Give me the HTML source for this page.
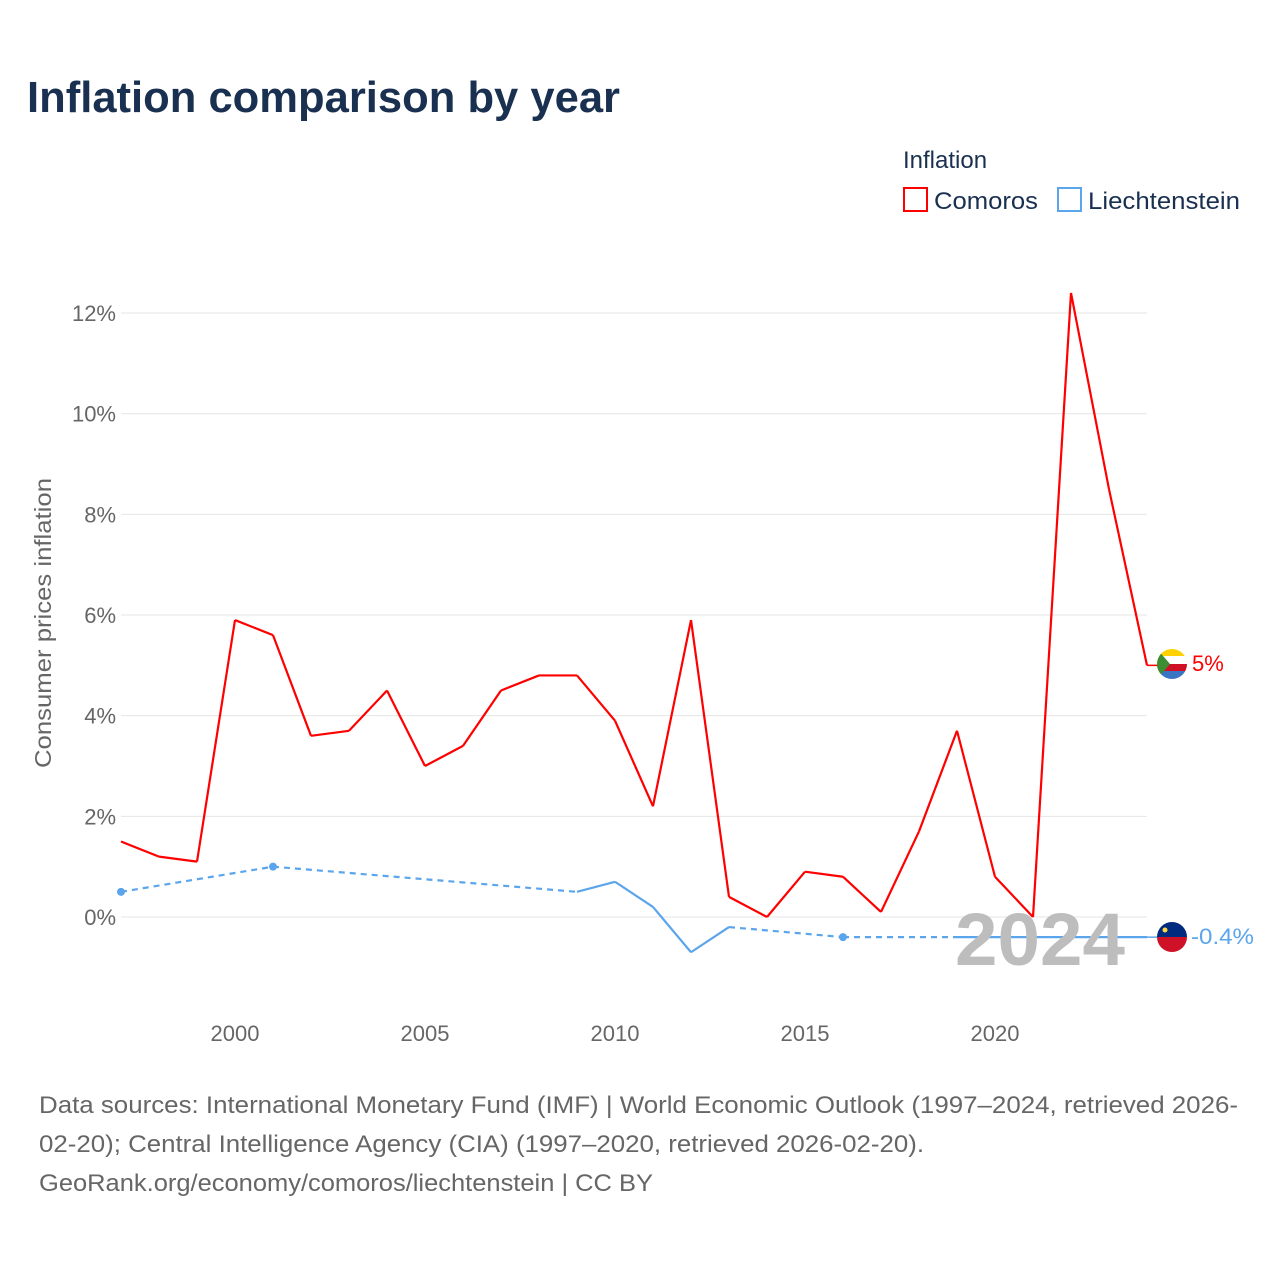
<!DOCTYPE html>
<html><head><meta charset="utf-8"><style>
body{margin:0;background:#fff;width:1280px;height:1280px;overflow:hidden;font-family:"Liberation Sans",sans-serif}
</style></head><body>
<svg width="1280" height="1280" id="chart">
<text x="27" y="112" font-size="44" font-weight="bold" fill="#1a3050" textLength="593" lengthAdjust="spacingAndGlyphs">Inflation comparison by year</text>
<text x="903" y="168" font-size="24" fill="#1a3050">Inflation</text>
<g><rect x="904" y="188" width="23" height="23" fill="none" stroke="#f00" stroke-width="2"/><text x="934" y="209" font-size="24" fill="#1a3050" textLength="104" lengthAdjust="spacingAndGlyphs">Comoros</text></g>
<g><rect x="1058" y="188" width="23" height="23" fill="none" stroke="#5aa5ec" stroke-width="2"/><text x="1088" y="209" font-size="24" fill="#1a3050" textLength="152" lengthAdjust="spacingAndGlyphs">Liechtenstein</text></g>
<g id="grid"></g><g id="series"></g>
<text x="955" y="965" font-size="74" font-weight="bold" fill="#bdbdbd" textLength="170" lengthAdjust="spacingAndGlyphs">2024</text>
<text transform="translate(51,623) rotate(-90)" font-size="23" fill="#666" text-anchor="middle" textLength="290" lengthAdjust="spacingAndGlyphs">Consumer prices inflation</text>
<g><clipPath id="c1"><circle cx="1172" cy="664" r="15"/></clipPath><g clip-path="url(#c1)"><rect x="1157" y="649" width="30" height="8" fill="#ffd100"/><rect x="1157" y="656" width="30" height="8" fill="#fff"/><rect x="1157" y="664" width="30" height="8" fill="#ce1126"/><rect x="1157" y="671" width="30" height="8" fill="#3a75c4"/><polygon points="1157,649 1170,664 1157,679" fill="#3d8e33"/></g></g>
<g><clipPath id="c2"><circle cx="1172" cy="937" r="15"/></clipPath><g clip-path="url(#c2)"><rect x="1157" y="922" width="30" height="15" fill="#002b7f"/><rect x="1157" y="937" width="30" height="15" fill="#ce1126"/><circle cx="1165" cy="930" r="2.5" fill="#ffd83d"/></g></g>
<text x="1192" y="671" font-size="22" fill="#f00">5%</text>
<text x="1191" y="944" font-size="22" fill="#5aa5ec" textLength="63" lengthAdjust="spacingAndGlyphs">-0.4%</text>
<text font-size="24" fill="#666"><tspan x="39" y="1113" textLength="1199" lengthAdjust="spacingAndGlyphs">Data sources: International Monetary Fund (IMF) | World Economic Outlook (1997–2024, retrieved 2026-</tspan><tspan x="39" y="1152" textLength="885" lengthAdjust="spacingAndGlyphs">02-20); Central Intelligence Agency (CIA) (1997–2020, retrieved 2026-02-20).</tspan><tspan x="39" y="1191" textLength="614" lengthAdjust="spacingAndGlyphs">GeoRank.org/economy/comoros/liechtenstein | CC BY</tspan></text>
</svg>
<script>
const years=[1997,1998,1999,2000,2001,2002,2003,2004,2005,2006,2007,2008,2009,2010,2011,2012,2013,2014,2015,2016,2017,2018,2019,2020,2021,2022,2023,2024];
const comoros=[1.5,1.2,1.1,5.9,5.6,3.6,3.7,4.5,3.0,3.4,4.5,4.8,4.8,3.9,2.2,5.9,0.4,0.0,0.9,0.8,0.1,1.7,3.7,0.8,0.0,12.4,8.5,5.0];
const liechtenstein=[0.5,null,null,null,1.0,null,null,null,null,null,null,null,0.5,0.7,0.2,-0.7,-0.2,null,null,-0.4,null,null,-0.4,-0.4,-0.4,-0.4,-0.4,-0.4];
const yTicks=[0,2,4,6,8,10,12];
const xTicks=[2000,2005,2010,2015,2020];
const X=y=>121+(y-1997)*38, Y=v=>917-v*50.33;
const NS='http://www.w3.org/2000/svg';
function mk(t,a,p){const e=document.createElementNS(NS,t);for(const k in a)e.setAttribute(k,a[k]);p.appendChild(e);return e;}
const g=document.getElementById('grid'), s=document.getElementById('series');
yTicks.forEach(v=>{
 const l=mk('line',{x1:121,x2:1147,y1:Y(v),y2:Y(v),stroke:'#e6e6e6'},g);
 
 
 const t=mk('text',{x:116,y:Y(v)+8,'font-size':22,fill:'#666','text-anchor':'end'},g);t.textContent=v+'%';
 
 
});
xTicks.forEach(v=>{
 const t=mk('text',{x:X(v),y:1041,'font-size':22,fill:'#666','text-anchor':'middle'},g);t.textContent=v;
 
 
});
function draw(vals,col,name){
 const pts=vals.map((v,i)=>v==null?null:[X(years[i]),Y(v)]);
 const known=pts.map((p,i)=>p?i:-1).filter(i=>i>=0);
 for(let k=0;k<known.length-1;k++){
  const a=known[k],b=known[k+1];
  const l=mk('line',{x1:pts[a][0],y1:pts[a][1],x2:pts[b][0],y2:pts[b][1],stroke:col,'stroke-width':2.2},s);
  if(b-a>1)l.setAttribute('stroke-dasharray','6,5');
  
  
 }
 known.forEach((i,k)=>{
  const prevGap=k==0||known[k]-known[k-1]>1, nextGap=k==known.length-1||known[k+1]-known[k]>1;
  if(prevGap&&nextGap&&k<known.length-1){const c=mk('circle',{cx:pts[i][0],cy:pts[i][1],r:4,fill:col},s);
   
   }
 });
 const last=pts[known[known.length-1]];
 const e=mk('line',{x1:last[0],y1:last[1],x2:1158,y2:last[1],stroke:col,'stroke-width':1.5},s);
 
 
}
draw(liechtenstein,'#5aa5ec','liechtenstein');
draw(comoros,'#f00','comoros');
</script>
</body></html>
